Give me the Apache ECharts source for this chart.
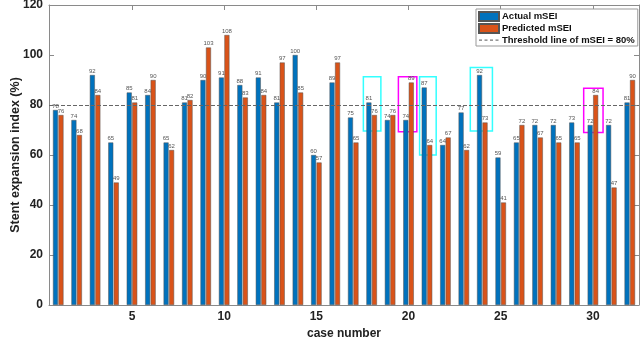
<!DOCTYPE html>
<html>
<head>
<meta charset="utf-8">
<script src="https://cdn.jsdelivr.net/npm/echarts@6/dist/echarts.min.js"></script>
<style>
  html, body { margin: 0; padding: 0; background: #fff; }
  #chart { width: 640px; height: 354px; }
</style>
</head>
<body>
<div id="chart"></div>
<script>
// case numbers 1..32
var cases = ['1','2','3','4','5','6','7','8','9','10','11','12','13','14','15','16',
             '17','18','19','20','21','22','23','24','25','26','27','28','29','30','31','32']
var actual = [78, 74, 92, 65, 85, 84, 65, 81, 90, 91, 88, 91, 81, 100, 60, 89,
              75, 81, 74, 74, 87, 64, 77, 92, 59, 65, 72, 72, 73, 72, 72, 81]
var predicted = [76, 68, 84, 49, 81, 90, 62, 82, 103, 108, 83, 84, 97, 85, 57, 97,
                 65, 76, 76, 89, 64, 67, 62, 73, 41, 72, 67, 65, 65, 84, 47, 90]
var threshold = 80
var xTicks = [5, 10, 15, 20, 25, 30]

// highlight boxes: [x from, x to, y from, y to, colour]
var boxes = [
  [17.55, 18.5, 69.6, 91.3, '#33ffff'],
  [19.45, 20.45, 69.3, 91.3, '#ff00ff'],
  [20.6, 21.5, 60, 91.3, '#33ffff'],
  [23.35, 24.55, 69.6, 95, '#33ffff'],
  [29.5, 30.55, 69, 86.7, '#ff00ff']
]

var font = 'Liberation Sans, Arial, sans-serif'
var axisCol = '#8a8a8a'
var textCol = '#222'

var myChart = echarts.init(document.getElementById('chart'))

var boxAreas = boxes.map(function (b) {
  return [
    { coord: [b[0], b[3]], itemStyle: { color: 'rgba(0,0,0,0)', borderColor: b[4], borderWidth: 1.5 } },
    { coord: [b[1], b[2]] }
  ]
})

var labelStyle = { show: true, position: 'top', distance: 1, fontSize: 6, color: '#555', fontFamily: font }

// dashed line legend icon
var dashIcon = 'path://M0,4h3v1.2h-3z M5.5,4h3v1.2h-3z M11,4h3v1.2h-3z M16.5,4h3v1.2h-3z M0,0h0.01v9h-0.01z M19.99,0h0.01v9h-0.01z'

myChart.setOption({
  animation: false,
  grid: { left: 49, right: 1, top: 5, bottom: 49, containLabel: false, outerBoundsMode: 'none' },
  legend: {
    orient: 'vertical',
    left: 476, top: 9,
    padding: [2, 3, 1, 2],
    itemWidth: 20, itemHeight: 9, itemGap: 1,
    backgroundColor: '#fff',
    borderColor: '#999', borderWidth: 1,
    textStyle: { fontFamily: font, fontWeight: 'bold', fontSize: 9.5, color: '#111', padding: [0, 0, 0, -2] },
    data: [
      { name: 'Actual mSEI', icon: 'rect' },
      { name: 'Predicted mSEI', icon: 'rect' },
      { name: 'Threshold line of mSEI = 80%', icon: dashIcon, itemStyle: { color: '#777' } }
    ]
  },
  xAxis: [{
    type: 'category',
    data: cases,
    name: 'case number',
    nameLocation: 'middle',
    nameGap: 22,
    nameTextStyle: { fontFamily: font, fontWeight: 'bold', fontSize: 12, color: textCol },
    axisLine: { lineStyle: { color: axisCol } },
    axisTick: { inside: true, length: 5, alignWithLabel: true, lineStyle: { color: axisCol },
      interval: function (i) { return (i + 1) % 5 === 0 } },
    axisLabel: { fontFamily: font, fontWeight: 'bold', fontSize: 12, color: textCol, margin: 6,
      interval: function (i) { return (i + 1) % 5 === 0 } },
    splitLine: { show: false }
  }, {
    type: 'value',
    position: 'top',
    min: 0.5, max: 32.5,
    axisLine: { show: true, onZero: false, lineStyle: { color: axisCol } },
    axisTick: { show: true, inside: true, length: 5, customValues: xTicks, lineStyle: { color: axisCol } },
    axisLabel: { show: false },
    splitLine: { show: false }
  }],
  yAxis: [{
    type: 'value',
    min: 0, max: 120, interval: 20,
    name: 'Stent expansion index (%)',
    nameLocation: 'middle',
    nameGap: 27,
    nameMoveOverlap: false,
    nameTextStyle: { fontFamily: font, fontWeight: 'bold', fontSize: 12.5, color: textCol },
    axisLine: { show: true, lineStyle: { color: axisCol } },
    axisTick: { show: true, inside: true, length: 5, lineStyle: { color: axisCol } },
    axisLabel: { fontFamily: font, fontWeight: 'bold', fontSize: 12, color: textCol, margin: 6 },
    splitLine: { show: false }
  }, {
    type: 'value',
    position: 'right',
    min: 0, max: 120, interval: 20,
    axisLine: { show: true, lineStyle: { color: axisCol } },
    axisTick: { show: true, inside: true, length: 5, lineStyle: { color: axisCol } },
    axisLabel: { show: false },
    splitLine: { show: false }
  }],
  series: [{
    name: 'Actual mSEI',
    type: 'bar',
    data: actual,
    barWidth: 5,
    barGap: '10%',
    itemStyle: { color: '#0072BD', borderColor: '#555', borderWidth: 0.5 },
    label: labelStyle
  }, {
    name: 'Predicted mSEI',
    type: 'bar',
    data: predicted,
    barWidth: 5,
    itemStyle: { color: '#D95319', borderColor: '#555', borderWidth: 0.5 },
    label: labelStyle
  }, {
    name: 'Threshold line of mSEI = 80%',
    type: 'line',
    data: [],
    symbol: 'none',
    itemStyle: { color: '#666' },
    lineStyle: { color: '#666', type: 'dashed', width: 1 },
    markLine: {
      silent: true,
      symbol: 'none',
      label: { show: false },
      lineStyle: { color: '#666', type: 'dashed', width: 1 },
      data: [{ yAxis: threshold }]
    }
  }, {
    name: 'boxes',
    type: 'line',
    xAxisIndex: 1,
    yAxisIndex: 0,
    data: [],
    silent: true,
    markArea: { silent: true, data: boxAreas }
  }]
})
</script>
</body>
</html>
